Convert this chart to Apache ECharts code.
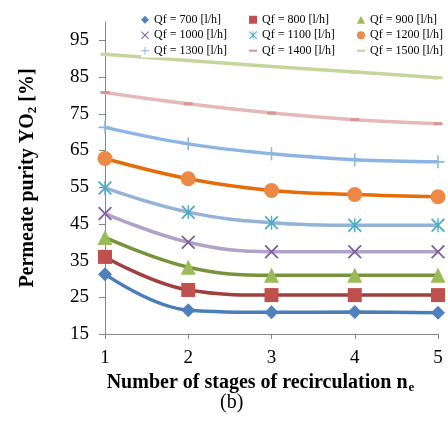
<!DOCTYPE html>
<html>
<head>
<meta charset="utf-8">
<script src="https://cdn.jsdelivr.net/npm/echarts@6/dist/echarts.min.js"></script>
<style>
    html, body { margin: 0; padding: 0; background: #fff; }
    #chart { width: 448px; height: 423px; }
</style>
</head>
<body>
<div id="chart"></div>
<script>
// values
const stages = [1, 2, 3, 4, 5];
const yTicks = [15, 25, 35, 45, 55, 65, 75, 85, 95];
const qf700 = [31.3, 21.5, 20.9, 21.0, 20.8];
const qf800 = [36.0, 27.0, 25.6, 25.6, 25.6];
const qf900 = [41.3, 33.2, 31.0, 31.0, 31.0];
const qf1000 = [47.8, 40.0, 37.4, 37.4, 37.4];
const qf1100 = [54.8, 48.2, 45.3, 44.6, 44.6];
const qf1200 = [62.8, 57.3, 54.1, 53.0, 52.4];
const qf1300 = [71.3, 66.8, 64.1, 62.5, 61.9];
const qf1400 = [80.8, 77.7, 75.2, 73.4, 72.3];
const qf1500 = [91.2, 89.5, 87.9, 86.4, 84.8];

const FONT = '"Liberation Serif", "Times New Roman", serif';

const X_PATH = 'path://M0,0.9L0.9,0L5,4.1L9.1,0L10,0.9L5.9,5L10,9.1L9.1,10L5,5.9L0.9,10L0,9.1L4.1,5Z';
const STAR_PATH = 'path://M0,0.9L0.9,0L5,4.1L9.1,0L10,0.9L5.9,5L10,9.1L9.1,10L5,5.9L0.9,10L0,9.1L4.1,5Z M4.5,0L5.5,0L5.5,10L4.5,10Z';
const PLUS_PATH = 'path://M4.4,0H5.6V4.4H10V5.6H5.6V10H4.4V5.6H0V4.4H4.4Z';
const DASH_PATH = 'path://M0,0H10V2.6H0Z';

const specs = [
    { name: 'Qf = 700 [l/h]', data: qf700, line: '#4a7ebb', mark: '#4f81bd', symbol: 'diamond', size: 14 },
    { name: 'Qf = 800 [l/h]', data: qf800, line: '#a0403e', mark: '#c0504d', symbol: 'rect', size: 14 },
    { name: 'Qf = 900 [l/h]', data: qf900, line: '#77933c', mark: '#9bbb59', symbol: 'triangle', size: 15 },
    { name: 'Qf = 1000 [l/h]', data: qf1000, line: '#b3a2c7', mark: '#7f5fa0', symbol: X_PATH, size: 14 },
    { name: 'Qf = 1100 [l/h]', data: qf1100, line: '#95b3d7', mark: '#4bacc6', symbol: STAR_PATH, size: 14 },
    { name: 'Qf = 1200 [l/h]', data: qf1200, line: '#e46c0a', mark: '#ec8a45', symbol: 'circle', size: 15 },
    { name: 'Qf = 1300 [l/h]', data: qf1300, line: '#8eb4e3', mark: '#8eb4e3', symbol: PLUS_PATH, size: 13 },
    { name: 'Qf = 1400 [l/h]', data: qf1400, line: '#e6b9b8', mark: '#d99694', symbol: DASH_PATH, size: [9, 3] },
    { name: 'Qf = 1500 [l/h]', data: qf1500, line: '#c3d69b', mark: '#c3d69b', symbol: DASH_PATH, size: [9, 3] }
];

const chart = echarts.init(document.getElementById('chart'));

function legendCol(idx, left) {
    return {
        orient: 'vertical',
        left: left,
        top: 13,
        padding: 0,
        itemGap: 2,
        itemWidth: 8,
        itemHeight: 8,
        backgroundColor: '#fff',
        textStyle: { fontFamily: FONT, fontSize: 12, color: '#000', lineHeight: 13.5 },
        data: idx.map(function (i) {
            return { name: specs[i].name, icon: specs[i].symbol, itemStyle: { color: specs[i].mark } };
        })
    };
}

const option = {
    animation: false,
    legend: [
        legendCol([0, 3, 6], 141),
        legendCol([1, 4, 7], 249),
        legendCol([2, 5, 8], 357)
    ],
    grid: { left: 105, right: 10, top: 22, bottom: 89 },
    xAxis: {
        type: 'value',
        min: 1,
        max: 5,
        interval: 1,
        name: '{b|Number of stages of recirculation n}{sub|e}',
        nameLocation: 'middle',
        nameGap: 34,
        nameTextStyle: {
            padding: [0, 22, 0, 0],
            rich: {
                b: { fontFamily: FONT, fontSize: 20, fontWeight: 'bold', color: '#000' },
                sub: { fontFamily: FONT, fontSize: 13, fontWeight: 'bold', color: '#000', padding: [9, 0, 0, 1] }
            }
        },
        axisLine: { lineStyle: { color: '#868686', width: 1 } },
        axisTick: { show: true, length: 5, lineStyle: { color: '#868686' } },
        axisLabel: { fontFamily: FONT, fontSize: 19, color: '#000', margin: 15 },
        splitLine: { show: false }
    },
    yAxis: {
        type: 'value',
        min: 15,
        max: 100,
        interval: 10,
        name: '{b|Permeate purity YO}{sub|2}{b| [%]}',
        nameLocation: 'middle',
        nameRotate: 90,
        nameGap: 66,
        nameTextStyle: {
            rich: {
                b: { fontFamily: FONT, fontSize: 20, fontWeight: 'bold', color: '#000' },
                sub: { fontFamily: FONT, fontSize: 13, fontWeight: 'bold', color: '#000', padding: [10, 0, 0, 0] }
            }
        },
        axisLine: { show: true, lineStyle: { color: '#868686', width: 1 } },
        axisTick: { show: true, length: 6, customValues: yTicks, lineStyle: { color: '#868686' } },
        axisLabel: { fontFamily: FONT, fontSize: 19, color: '#000', margin: 16, customValues: yTicks },
        splitLine: { show: false }
    },
    title: {
        text: '(b)',
        left: 220,
        top: 393,
        padding: 0,
        textStyle: { fontFamily: FONT, fontSize: 20, fontWeight: 'normal', color: '#000' }
    },
    series: specs.map(function (s) {
        return {
            name: s.name,
            type: 'line',
            smooth: 0.4,
            data: stages.map(function (x, i) { return [x, s.data[i]]; }),
            symbol: s.symbol,
            symbolSize: s.size,
            lineStyle: { color: s.line, width: 3.5 },
            itemStyle: { color: s.mark, opacity: 1 },
            z: 2
        };
    })
};

chart.setOption(option);
</script>
</body>
</html>
